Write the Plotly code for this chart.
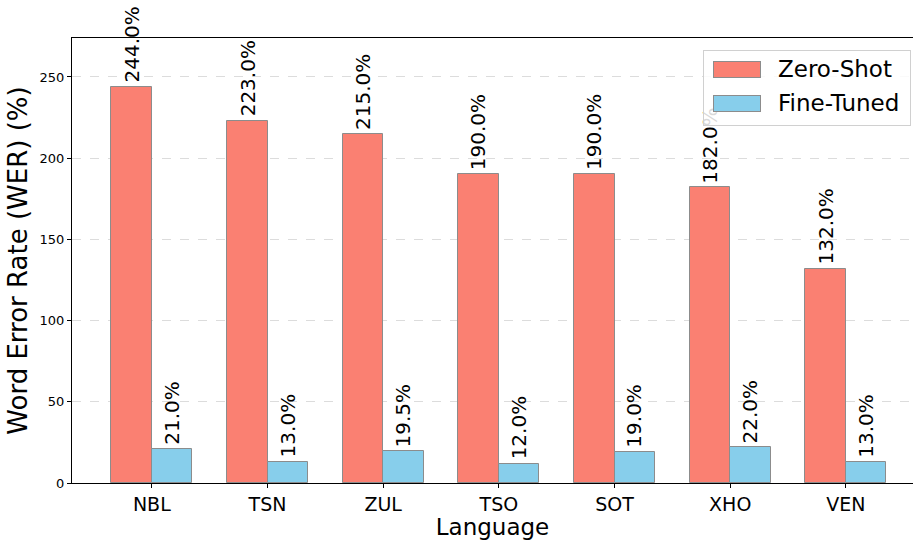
"""WER per language: zero-shot vs fine-tuned grouped bars."""

import plotly.graph_objects as go

languages = ["NBL", "TSN", "ZUL", "TSO", "SOT", "XHO", "VEN"]
zero_shot = [244.0, 223.0, 215.0, 190.0, 190.0, 182.0, 132.0]
fine_tuned = [21.0, 13.0, 19.5, 12.0, 19.0, 22.0, 13.0]
y_ticks = [0, 50, 100, 150, 200, 250]

SALMON = "#FA8072"
SKY = "#87CEEB"
EDGE = "#8c8c8c"
FONT = "DejaVu Sans"

fig = go.Figure()
fig.add_trace(
    go.Bar(
        x=languages,
        y=zero_shot,
        name="Zero-Shot",
        offset=-0.35,
        width=0.35,
        marker={"color": SALMON, "line": {"color": EDGE, "width": 1}},
        showlegend=False,
    )
)
fig.add_trace(
    go.Bar(
        x=languages,
        y=fine_tuned,
        name="Fine-Tuned",
        offset=0,
        width=0.35,
        marker={"color": SKY, "line": {"color": EDGE, "width": 1}},
        showlegend=False,
    )
)

# value labels above each bar, rotated like the original
for lang, zv, fv in zip(languages, zero_shot, fine_tuned):
    for val, shift in ((zv, -20), (fv, 20)):
        fig.add_annotation(
            x=lang,
            y=val,
            text=f"{val:.1f}%",
            textangle=-90,
            xanchor="center",
            yanchor="bottom",
            xshift=shift,
            yshift=2,
            showarrow=False,
            font={"size": 20, "color": "black", "family": FONT},
        )

# hand-built legend so the patches look like matplotlib's
fig.add_annotation(
    xref="paper", yref="paper", x=0.750, y=0.973, xanchor="left", yanchor="top",
    text=" ", width=206, height=74, bgcolor="rgba(255,255,255,0.85)",
    bordercolor="#d0d0d0", borderwidth=1, borderpad=0, showarrow=False,
)
for name, color, ypos in (("Zero-Shot", SALMON, 0.930), ("Fine-Tuned", SKY, 0.853)):
    fig.add_annotation(
        xref="paper", yref="paper", x=0.762, y=ypos, xanchor="left", yanchor="middle",
        text=" ", width=46, height=15, bgcolor=color,
        bordercolor=EDGE, borderwidth=1, borderpad=0, showarrow=False,
    )
    fig.add_annotation(
        xref="paper", yref="paper", x=0.837, y=ypos, xanchor="left", yanchor="middle",
        text=name, showarrow=False,
        font={"size": 23, "color": "black", "family": FONT},
    )

fig.update_layout(
    width=913,
    height=540,
    margin={"l": 72, "r": 0, "t": 38, "b": 57},
    plot_bgcolor="white",
    paper_bgcolor="white",
    font={"family": FONT, "color": "black"},
    bargap=0,
)
fig.update_xaxes(
    range=[-0.69, 6.58],
    showline=True,
    linecolor="black",
    linewidth=1,
    mirror=True,
    ticks="outside",
    ticklen=4,
    tickcolor="black",
    tickfont={"size": 19},
    title={"text": "Language", "font": {"size": 23}, "standoff": 9},
    showgrid=False,
)
fig.update_yaxes(
    range=[0, 274],
    tickvals=y_ticks,
    showline=True,
    linecolor="black",
    linewidth=1,
    ticks="outside",
    ticklen=4,
    tickcolor="black",
    tickfont={"size": 13},
    title={"text": "Word Error Rate (WER) (%)", "font": {"size": 26}, "standoff": 4},
    showgrid=True,
    gridcolor="#dcdcdc",
    griddash="dash",
    gridwidth=1,
    zeroline=False,
)

fig.write_html(
    "out.html",
    config={"displayModeBar": False},
    post_script="document.body.style.margin='0';",
)
